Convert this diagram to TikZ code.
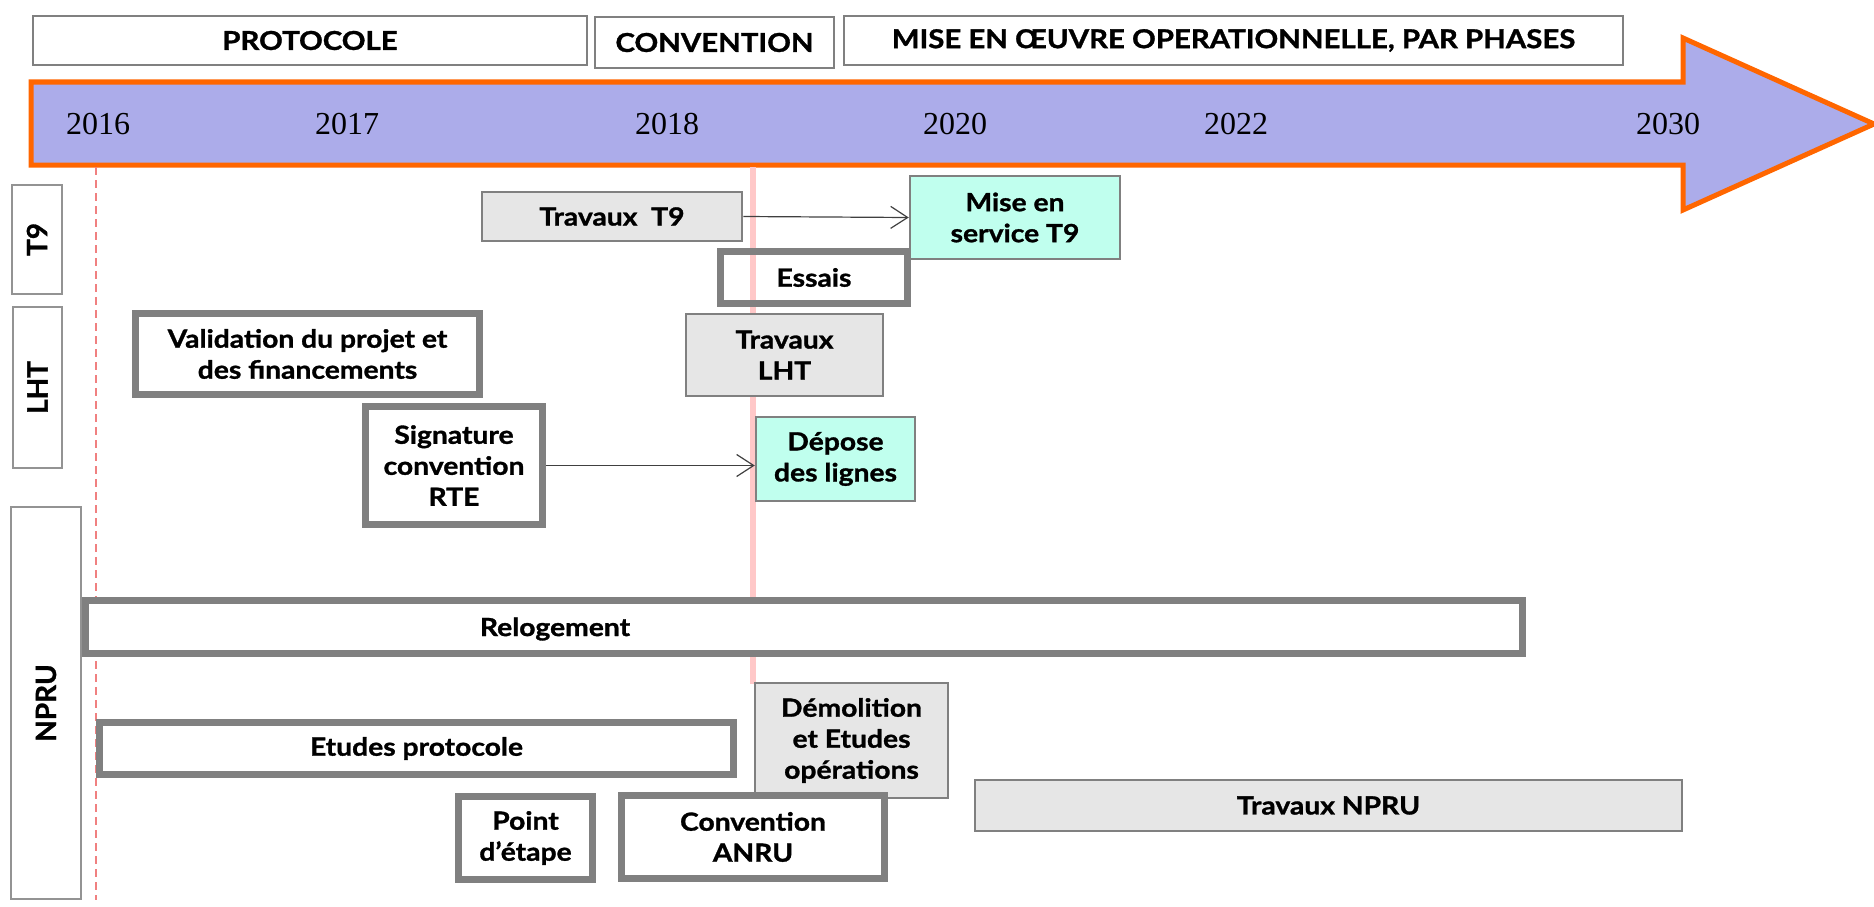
\documentclass[tikz,border=0pt]{standalone}
\usepackage{fontspec}
\usetikzlibrary{arrows.meta}
\newfontfamily\latofont[FakeStretch=1.13,FakeBold=1.2]{Lato}
\newfontfamily\sidefont[FakeBold=1]{Lato}
\newfontfamily\yearfont{Liberation Serif}
\definecolor{lav}{RGB}{172,172,234}
\definecolor{orng}{RGB}{255,102,0}
\definecolor{mint}{RGB}{192,255,238}
\definecolor{lgray}{RGB}{230,230,230}
\definecolor{bgray}{RGB}{128,128,128}
\definecolor{pinkl}{RGB}{255,200,200}
\definecolor{redd}{RGB}{240,128,128}
\definecolor{arrg}{RGB}{64,64,64}
\tikzset{
  txt/.style={font=\latofont\bfseries\fontsize{25}{31}\selectfont, align=center, inner sep=0pt},
  hdr/.style={font=\latofont\bfseries\fontsize{26}{30}\selectfont},
  thinbox/.style={txt, draw=bgray, line width=2.5pt},
  thickbox/.style={txt, draw=bgray, line width=7pt},
  sidebox/.style={draw=bgray!85, line width=2.5pt, fill=white, inner sep=0pt},
  sidetxt/.style={font=\sidefont\bfseries\fontsize{28}{32}\selectfont, rotate=90, inner sep=0pt},
  yr/.style={font=\yearfont\fontsize{32}{36}\selectfont, inner sep=0pt},
  conn/.style={draw=arrg, line width=1.2pt, -{Straight Barb[length=17pt,width=22pt,line width=1.2pt]}},
}
\begin{document}
\begin{tikzpicture}[x=1pt,y=-1pt]
\useasboundingbox (0,0) rectangle (1874,907);
% phase headers
\node[thinbox, fill=white, minimum width=554, minimum height=49, hdr] (proto) at (310,40.5) {PROTOCOLE};
\node[thinbox, fill=white, minimum width=239, minimum height=51, hdr] (conv) at (714.5,42.5) {CONVENTION};
\node[thinbox, fill=white, minimum width=779, minimum height=49, hdr] (mise) at (1233.5,40.5) {MISE EN ŒUVRE OPERATIONNELLE, PAR PHASES};
% timeline arrow
\draw[fill=lav, draw=orng, line width=5pt, line join=miter]
  (31,82) -- (1683,82) -- (1683,38) -- (1874,124) -- (1683,210) -- (1683,165) -- (31,165) -- cycle;
\node[yr] (y16) at (98,124) {2016};
\node[yr] (y17) at (347,124) {2017};
\node[yr] (y18) at (667,124) {2018};
\node[yr] (y20) at (955,124) {2020};
\node[yr] (y22) at (1236,124) {2022};
\node[yr] (y30) at (1668,124) {2030};
% reference lines
\coordinate (dtop) at (96,167);
\coordinate (dbot) at (96,900);
\draw[redd, line width=1.8pt, dash pattern=on 8pt off 5pt] (dtop) -- (dbot);
\coordinate (ptop) at (753,167);
\coordinate (pbot) at (753,684);
\draw[pinkl, line width=6pt] (ptop) -- (pbot);
% side labels
\node[sidebox, minimum width=50, minimum height=109] (t9) at (37,239.5) {};
\node[sidetxt] at (t9.center) {T9};
\node[sidebox, minimum width=49, minimum height=161] (lht) at (37.5,387.5) {};
\node[sidetxt] at (lht.center) {LHT};
\node[sidebox, minimum width=70, minimum height=392] (npru) at (46,703) {};
\node[sidetxt] at (npru.center) {NPRU};
% T9
\node[thinbox, fill=lgray, minimum width=260, minimum height=49] (trt9) at (612,216.5) {Travaux\ \ T9};
\node[thinbox, fill=mint, minimum width=210, minimum height=83] (mst9) at (1015,217.5) {Mise en\\service T9};
\node[thickbox, minimum width=187, minimum height=52] (ess) at (814,277.5) {Essais};
\draw[conn] (trt9.east) -- (mst9.west);
% LHT
\node[thickbox, fill=white, minimum width=344, minimum height=81] (valid) at (307.5,354) {Validation du projet et\\des financements};
\node[thinbox, fill=lgray, minimum width=197, minimum height=82] (trlht) at (784.5,355) {Travaux\\LHT};
\node[thickbox, fill=white, minimum width=177, minimum height=118] (sig) at (454,465.5) {Signature\\convention\\RTE};
\node[thinbox, fill=mint, minimum width=159, minimum height=84] (dep) at (835.5,459) {Dépose\\des lignes};
\draw[conn] (sig.east) -- (sig.east -| dep.west);
% NPRU
\node[thickbox, fill=white, minimum width=1437, minimum height=53] (relog) at (804,627) {};
\node[txt] (relogt) at (555,629) {Relogement};
\node[thickbox, fill=white, minimum width=634, minimum height=52] (etud) at (416.5,748.5) {Etudes protocole};
\node[thinbox, fill=lgray, minimum width=193, minimum height=115] (demo) at (851.5,740.5) {Démolition\\et Etudes\\opérations};
\node[thickbox, fill=white, minimum width=134, minimum height=83] (point) at (525.5,838) {Point\\d’étape};
\node[thickbox, fill=white, minimum width=263, minimum height=83] (anru) at (753,837) {Convention\\ANRU};
\node[thinbox, fill=lgray, minimum width=707, minimum height=51] (trnpru) at (1328.5,805.5) {Travaux NPRU};
\end{tikzpicture}
\end{document}
